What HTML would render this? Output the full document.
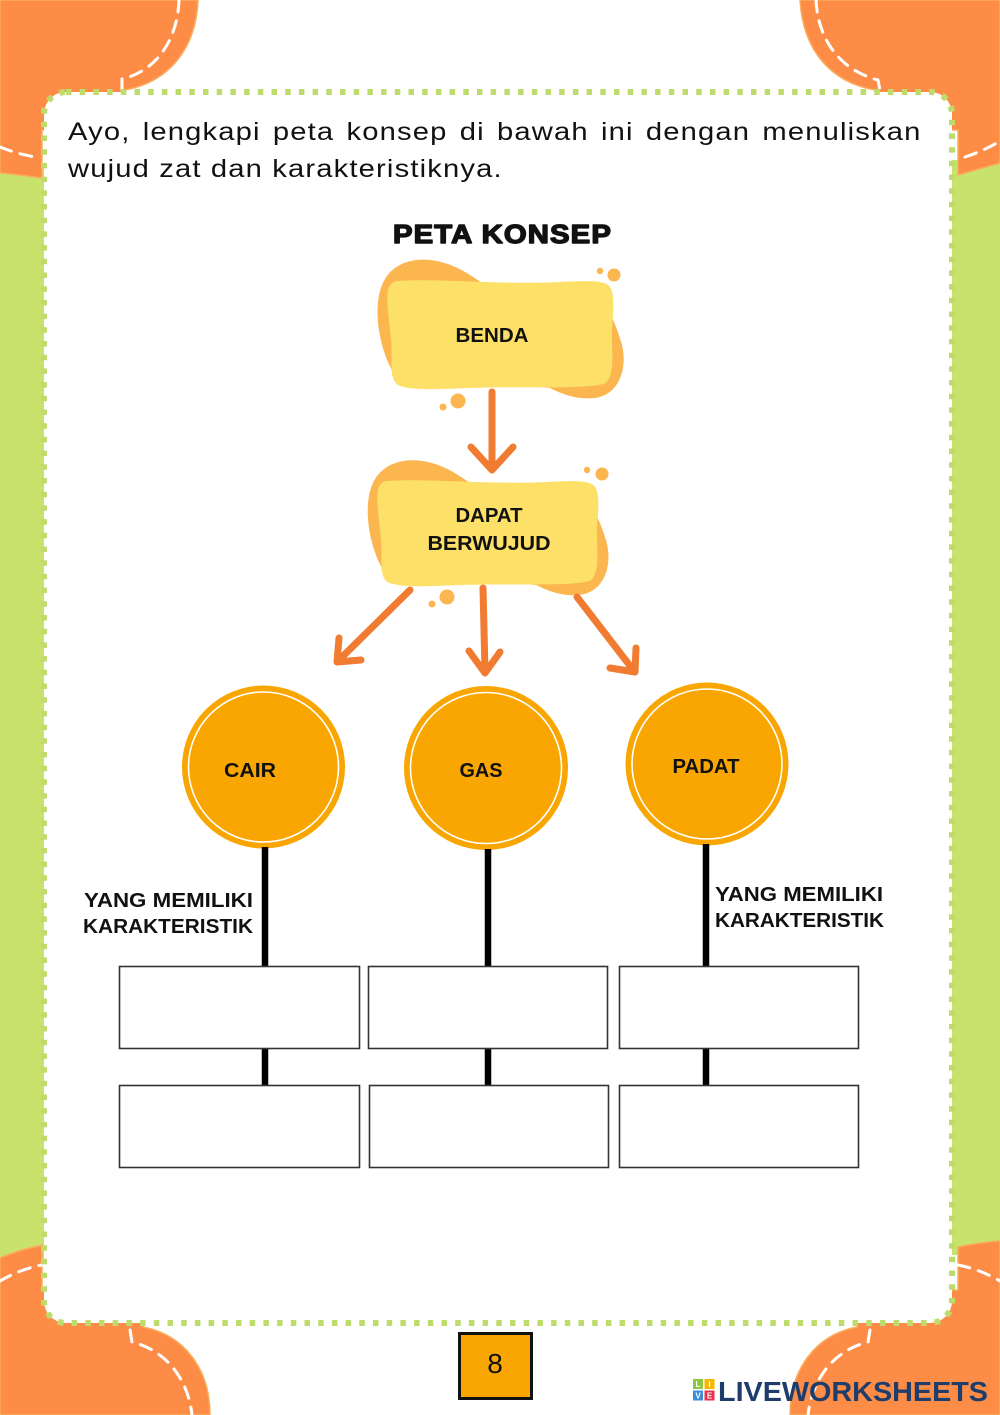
<!DOCTYPE html>
<html>
<head>
<meta charset="utf-8">
<style>
  html, body { margin: 0; padding: 0; background: #ffffff; }
  #page { position: relative; width: 1000px; height: 1415px; overflow: hidden; background: #ffffff; }
  svg { position: absolute; left: 0; top: 0; }
  .para {
    position: absolute; left: 68px; width: 732px;
    font-family: "Liberation Sans", sans-serif; font-size: 25px; line-height: 37px;
    letter-spacing: 1px; color: #111; white-space: nowrap;
    transform: scaleX(1.166); transform-origin: 0 0;
  }
  .l1 { top: 114px; text-align: justify; text-align-last: justify; }
  .l2 { top: 151px; text-align: left; }
</style>
</head>
<body>
<div id="page">
<svg width="1000" height="1415" viewBox="0 0 1000 1415" xmlns="http://www.w3.org/2000/svg">
  <!-- green side bands -->
  <rect x="0" y="165" width="60" height="1095" fill="#c8e26c"/>
  <rect x="940" y="160" width="60" height="1095" fill="#c8e26c"/>

  <!-- orange corner shapes -->
  <g fill="#fd8c46" stroke="#fbac5c" stroke-width="1.5">
    <path d="M0,0 H198 C196,50 168,82 125,90 L125,130 L42,130 L42,178 C28,176 14,174 0,173 Z"/>
    <path d="M1000,0 H800 C803,50 830,82 875,90 L875,130 L958,130 L958,175 C972,171 986,167 1000,163 Z"/>
    <path d="M0,1415 H210 C210,1370 185,1335 143,1327 L143,1290 L42,1290 L42,1245 C28,1248 14,1252 0,1258 Z"/>
    <path d="M1000,1415 H790 C790,1370 815,1335 857,1327 L857,1290 L958,1290 L958,1247 C972,1244 986,1242 1000,1241 Z"/>
  </g>
  <!-- stitching -->
  <g fill="none" stroke="#ffffff" stroke-width="3" stroke-dasharray="12 9" stroke-linecap="round">
    <path d="M179,0 C178,35 160,70 122,79 L122,90"/>
    <path d="M0,147 C12,152 24,155 35,157"/>
    <path d="M816,0 C818,40 840,70 878,80 L880,90"/>
    <path d="M965,157 C978,153 990,147 1000,141"/>
    <path d="M130,1330 L132,1342 C165,1350 188,1378 192,1415"/>
    <path d="M0,1281 C12,1274 26,1268 42,1265"/>
    <path d="M870,1330 L868,1342 C835,1350 812,1378 808,1415"/>
    <path d="M958,1265 C974,1268 988,1274 1000,1281"/>
  </g>

  <!-- white panel with dotted border -->
  <rect x="44" y="92" width="908" height="1231" rx="22" ry="22" fill="#ffffff"
        stroke="#bddc6b" stroke-width="6" stroke-dasharray="5.5 8.2"/>

  <!-- title -->
  <text x="393" y="243" font-family="Liberation Sans, sans-serif" font-size="26" font-weight="bold"
        fill="#111" stroke="#111" stroke-width="1.4" stroke-linejoin="round" letter-spacing="1"
        textLength="219" lengthAdjust="spacingAndGlyphs">PETA KONSEP</text>

  <!-- BENDA blob -->
  <g id="blob1">
    <path fill="#fbb650" d="M393,372 C380,350 372,310 382,285 C390,265 410,258 430,260 C455,263 470,275 485,285 L590,290 C605,300 615,320 622,345 C628,370 618,395 595,398 C575,400 560,393 550,388 Z"/>
    <path fill="#fde068" d="M398,281 C440,278 500,285 560,282 C585,281 600,280 608,285 C616,292 613,310 612,330 C611,350 616,372 606,383 C590,390 520,386 470,388 C440,389 410,391 398,385 C388,378 393,360 391,340 C389,320 386,300 388,290 C390,283 394,281 398,281 Z"/>
  </g>
  <g fill="#fbb650">
    <circle cx="600" cy="271" r="3.2"/>
    <circle cx="614" cy="275" r="6.5"/>
    <circle cx="458" cy="401" r="7.5"/>
    <circle cx="443" cy="407" r="3.5"/>
  </g>
  <text x="492" y="342" text-anchor="middle" font-family="Liberation Sans, sans-serif" font-size="20" font-weight="bold" fill="#111" textLength="73" lengthAdjust="spacingAndGlyphs">BENDA</text>

  <!-- DAPAT BERWUJUD blob -->
  <g transform="translate(377,480) scale(0.978,0.973) translate(-387,-280)">
    <path fill="#fbb650" d="M393,372 C380,350 372,310 382,285 C390,265 410,258 430,260 C455,263 470,275 485,285 L590,290 C605,300 615,320 622,345 C628,370 618,395 595,398 C575,400 560,393 550,388 Z"/>
    <path fill="#fde068" d="M398,281 C440,278 500,285 560,282 C585,281 600,280 608,285 C616,292 613,310 612,330 C611,350 616,372 606,383 C590,390 520,386 470,388 C440,389 410,391 398,385 C388,378 393,360 391,340 C389,320 386,300 388,290 C390,283 394,281 398,281 Z"/>
  </g>
  <g fill="#fbb650">
    <circle cx="587" cy="470" r="3.2"/>
    <circle cx="602" cy="474" r="6.5"/>
    <circle cx="447" cy="597" r="7.5"/>
    <circle cx="432" cy="604" r="3.5"/>
  </g>
  <text x="489" y="522" text-anchor="middle" font-family="Liberation Sans, sans-serif" font-size="20" font-weight="bold" fill="#111" textLength="67" lengthAdjust="spacingAndGlyphs">DAPAT</text>
  <text x="489" y="550" text-anchor="middle" font-family="Liberation Sans, sans-serif" font-size="20" font-weight="bold" fill="#111" textLength="123" lengthAdjust="spacingAndGlyphs">BERWUJUD</text>

  <!-- arrows -->
  <g fill="none" stroke="#f07b31" stroke-width="7" stroke-linecap="round" stroke-linejoin="round">
    <path d="M492,392 L492,468"/>
    <path d="M471,447 L492,470 L513,447"/>
    <path d="M410,590 L338,661"/>
    <path d="M361,660 L337,662 L339,638"/>
    <path d="M483,588 L485,671"/>
    <path d="M469,651 L485,673 L500,652"/>
    <path d="M577,597 L634,671"/>
    <path d="M610,668 L635,672 L636,648"/>
  </g>

  <!-- circles -->
  <g>
    <circle cx="263.5" cy="767" r="81.5" fill="#f9a602"/>
    <circle cx="263.5" cy="767" r="75" fill="none" stroke="#ffffff" stroke-width="1.6"/>
    <circle cx="486" cy="768" r="82" fill="#f9a602"/>
    <circle cx="486" cy="768" r="75.5" fill="none" stroke="#ffffff" stroke-width="1.6"/>
    <circle cx="707" cy="764" r="81.5" fill="#f9a602"/>
    <circle cx="707" cy="764" r="75" fill="none" stroke="#ffffff" stroke-width="1.6"/>
  </g>
  <g font-family="Liberation Sans, sans-serif" font-size="20" font-weight="bold" fill="#111" text-anchor="middle">
    <text x="250" y="777" textLength="52" lengthAdjust="spacingAndGlyphs">CAIR</text>
    <text x="481" y="777" textLength="43" lengthAdjust="spacingAndGlyphs">GAS</text>
    <text x="706" y="773" textLength="67" lengthAdjust="spacingAndGlyphs">PADAT</text>
  </g>

  <!-- connector lines -->
  <g stroke="#000" stroke-width="6.5">
    <line x1="265" y1="847" x2="265" y2="967"/>
    <line x1="265" y1="1048" x2="265" y2="1086"/>
    <line x1="488" y1="849" x2="488" y2="967"/>
    <line x1="488" y1="1048" x2="488" y2="1086"/>
    <line x1="706" y1="844" x2="706" y2="967"/>
    <line x1="706" y1="1048" x2="706" y2="1086"/>
  </g>

  <!-- boxes -->
  <g fill="#ffffff" stroke="#333" stroke-width="1.6">
    <rect x="119.5" y="966.5" width="240" height="82"/>
    <rect x="119.5" y="1085.5" width="240" height="82"/>
    <rect x="368.5" y="966.5" width="239" height="82"/>
    <rect x="369.5" y="1085.5" width="239" height="82"/>
    <rect x="619.5" y="966.5" width="239" height="82"/>
    <rect x="619.5" y="1085.5" width="239" height="82"/>
  </g>

  <!-- labels -->
  <g font-family="Liberation Sans, sans-serif" font-size="20" font-weight="bold" fill="#111">
    <text x="84" y="907" textLength="169" lengthAdjust="spacingAndGlyphs">YANG MEMILIKI</text>
    <text x="83" y="933" textLength="170" lengthAdjust="spacingAndGlyphs">KARAKTERISTIK</text>
    <text x="715" y="901" textLength="168" lengthAdjust="spacingAndGlyphs">YANG MEMILIKI</text>
    <text x="715" y="927" textLength="169" lengthAdjust="spacingAndGlyphs">KARAKTERISTIK</text>
  </g>

  <!-- page number -->
  <rect x="459.5" y="1333.5" width="72" height="65" fill="#f9a602" stroke="#111" stroke-width="3"/>
  <text x="495" y="1373" text-anchor="middle" font-family="Liberation Sans, sans-serif" font-size="28" fill="#111">8</text>

  <!-- liveworksheets logo -->
  <g font-family="Liberation Sans, sans-serif" font-weight="bold" font-size="8" fill="#ffffff" text-anchor="middle">
    <rect x="693" y="1379" width="10" height="10" fill="#8dc63f"/>
    <rect x="704.5" y="1379" width="10" height="10" fill="#f7b500"/>
    <rect x="693" y="1390.5" width="10" height="10" fill="#3b8fd9"/>
    <rect x="704.5" y="1390.5" width="10" height="10" fill="#e8314a"/>
    <text x="698" y="1387">L</text>
    <text x="709.5" y="1387">I</text>
    <text x="698" y="1398.5">V</text>
    <text x="709.5" y="1398.5">E</text>
  </g>
  <text x="718" y="1401" font-family="Liberation Sans, sans-serif" font-size="28" font-weight="bold" fill="#1e3d6b" textLength="270" lengthAdjust="spacingAndGlyphs">LIVEWORKSHEETS</text>
</svg>

<div class="para l1">Ayo, lengkapi peta konsep di bawah ini dengan menuliskan</div>
<div class="para l2">wujud zat dan karakteristiknya.</div>
</div>
</body>
</html>
